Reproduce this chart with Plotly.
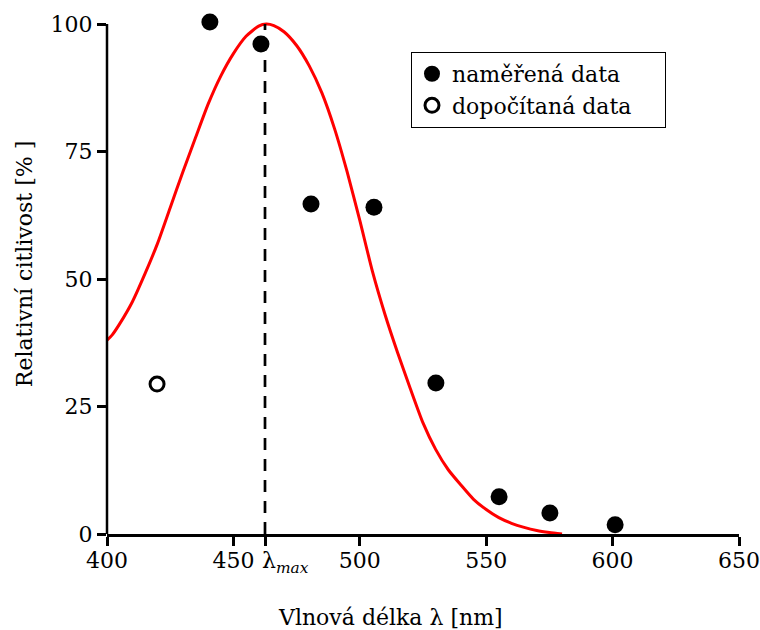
import plotly.graph_objects as go

# measured data (naměřená data)
meas_x = [440.7, 460.9, 480.7, 505.6, 530.1, 555.1, 575.2, 601.0]
meas_y = [100.4, 96.1, 64.7, 64.1, 29.6, 7.3, 4.1, 1.8]

# calculated data (dopočítaná data)
calc_x = [419.8]
calc_y = [29.4]

# fitted sensitivity curve
curve_x = [400, 402, 405, 410, 415, 420, 425, 430, 435, 440, 445, 450, 455, 460,
           463, 466, 470, 475, 480, 485, 490, 495, 500, 505, 510, 515, 520, 525,
           530, 535, 540, 545, 550, 555, 560, 565, 570, 575, 580]
curve_y = [38.0, 39.0, 41.2, 45.5, 51.0, 57.0, 64.0, 71.0, 77.7, 84.3, 89.8, 94.2,
           97.6, 99.6, 100.0, 99.7, 98.5, 95.8, 91.8, 86.5, 79.5, 71.0, 61.5, 51.5,
           43.0, 35.5, 28.5, 21.8, 16.6, 12.6, 9.6, 6.8, 4.8, 3.2, 2.1, 1.3, 0.7, 0.3, 0.0]

lambda_max = 462.5
vline_y = [0, 100]

x_ticks = [400, 450, 500, 550, 600, 650]
x_ticktext = ["400", "450", "500", "550", "600", "650"]
y_ticks = [0, 25, 50, 75, 100]
y_ticktext = ["0", "25", "50", "75", "100"]
y_top = 100

NB = "\u00a0"
FONT = "DejaVu Serif"
FS = 22

fig = go.Figure()

fig.add_trace(go.Scatter(
    x=curve_x, y=curve_y, mode="lines",
    line=dict(color="#ff0000", width=3, shape="spline", smoothing=0.6),
    showlegend=False, hoverinfo="skip"))

fig.add_trace(go.Scatter(
    x=[lambda_max, lambda_max], y=vline_y, mode="lines",
    line=dict(color="black", width=2.7, dash="12px,9px"),
    showlegend=False, hoverinfo="skip"))

fig.add_trace(go.Scatter(
    x=meas_x, y=meas_y, mode="markers", name="naměřená data" + NB * 4,
    marker=dict(color="black", size=17, line=dict(width=0)),
    cliponaxis=False))

fig.add_trace(go.Scatter(
    x=calc_x, y=calc_y, mode="markers", name="dopočítaná data" + NB * 4,
    marker=dict(symbol="circle-open", color="black", size=14, line=dict(width=3)),
    cliponaxis=False))

axis_common = dict(
    linecolor="black", linewidth=2.5, automargin=False,
    ticks="outside", ticklen=9, tickwidth=2.5, tickcolor="black",
    showgrid=False, zeroline=False,
    tickfont=dict(family=FONT, size=FS, color="black"),
)

fig.update_xaxes(range=[400, 650], tickmode="array", tickvals=x_ticks,
                 ticktext=x_ticktext, showline=True, tickangle=0,
                 ticklabelstandoff=-4,
                 minor=dict(tickmode="array", tickvals=[lambda_max],
                            ticks="outside", ticklen=9, tickwidth=2.5,
                            tickcolor="black", showgrid=False),
                 **axis_common)
fig.update_yaxes(range=[0, 101], tickmode="array", tickvals=y_ticks,
                 ticktext=y_ticktext, ticklabelstandoff=0, showline=False,
                 **axis_common)

# y axis line only up to the 100 tick
fig.add_shape(type="line", xref="paper", yref="y", x0=0, x1=0, y0=0, y1=y_top,
              line=dict(color="black", width=2.5), layer="above")

# lambda_max label next to its tick
fig.add_annotation(x=lambda_max, y=0, xref="x", yref="y", xanchor="left",
                   yanchor="middle", yshift=-28, xshift=-5, showarrow=False,
                   text="λ<sub><i>max</i></sub>",
                   font=dict(family=FONT, size=FS, color="black"))

fig.add_annotation(x=0.448, y=0, xref="paper", yref="paper", yshift=-83,
                   xanchor="center", yanchor="middle", showarrow=False,
                   text="Vlnová délka λ [nm]",
                   font=dict(family=FONT, size=FS, color="black"))

fig.add_annotation(x=0, y=0.524, xref="paper", yref="paper", xshift=-83,
                   xanchor="center", yanchor="middle", showarrow=False,
                   textangle=-90, text="Relativní citlivost [% ]",
                   font=dict(family=FONT, size=FS, color="black"))

fig.update_layout(
    width=760, height=630,
    margin=dict(l=107, r=21, t=19, b=96),
    paper_bgcolor="white", plot_bgcolor="white",
    font=dict(family=FONT, size=FS, color="black"),
    legend=dict(x=0.481, y=0.936, xanchor="left", yanchor="top",
                bgcolor="white", bordercolor="black", borderwidth=1,
                font=dict(family=FONT, size=FS, color="black"),
                tracegroupgap=0),
)

fig.write_html("out.html")
